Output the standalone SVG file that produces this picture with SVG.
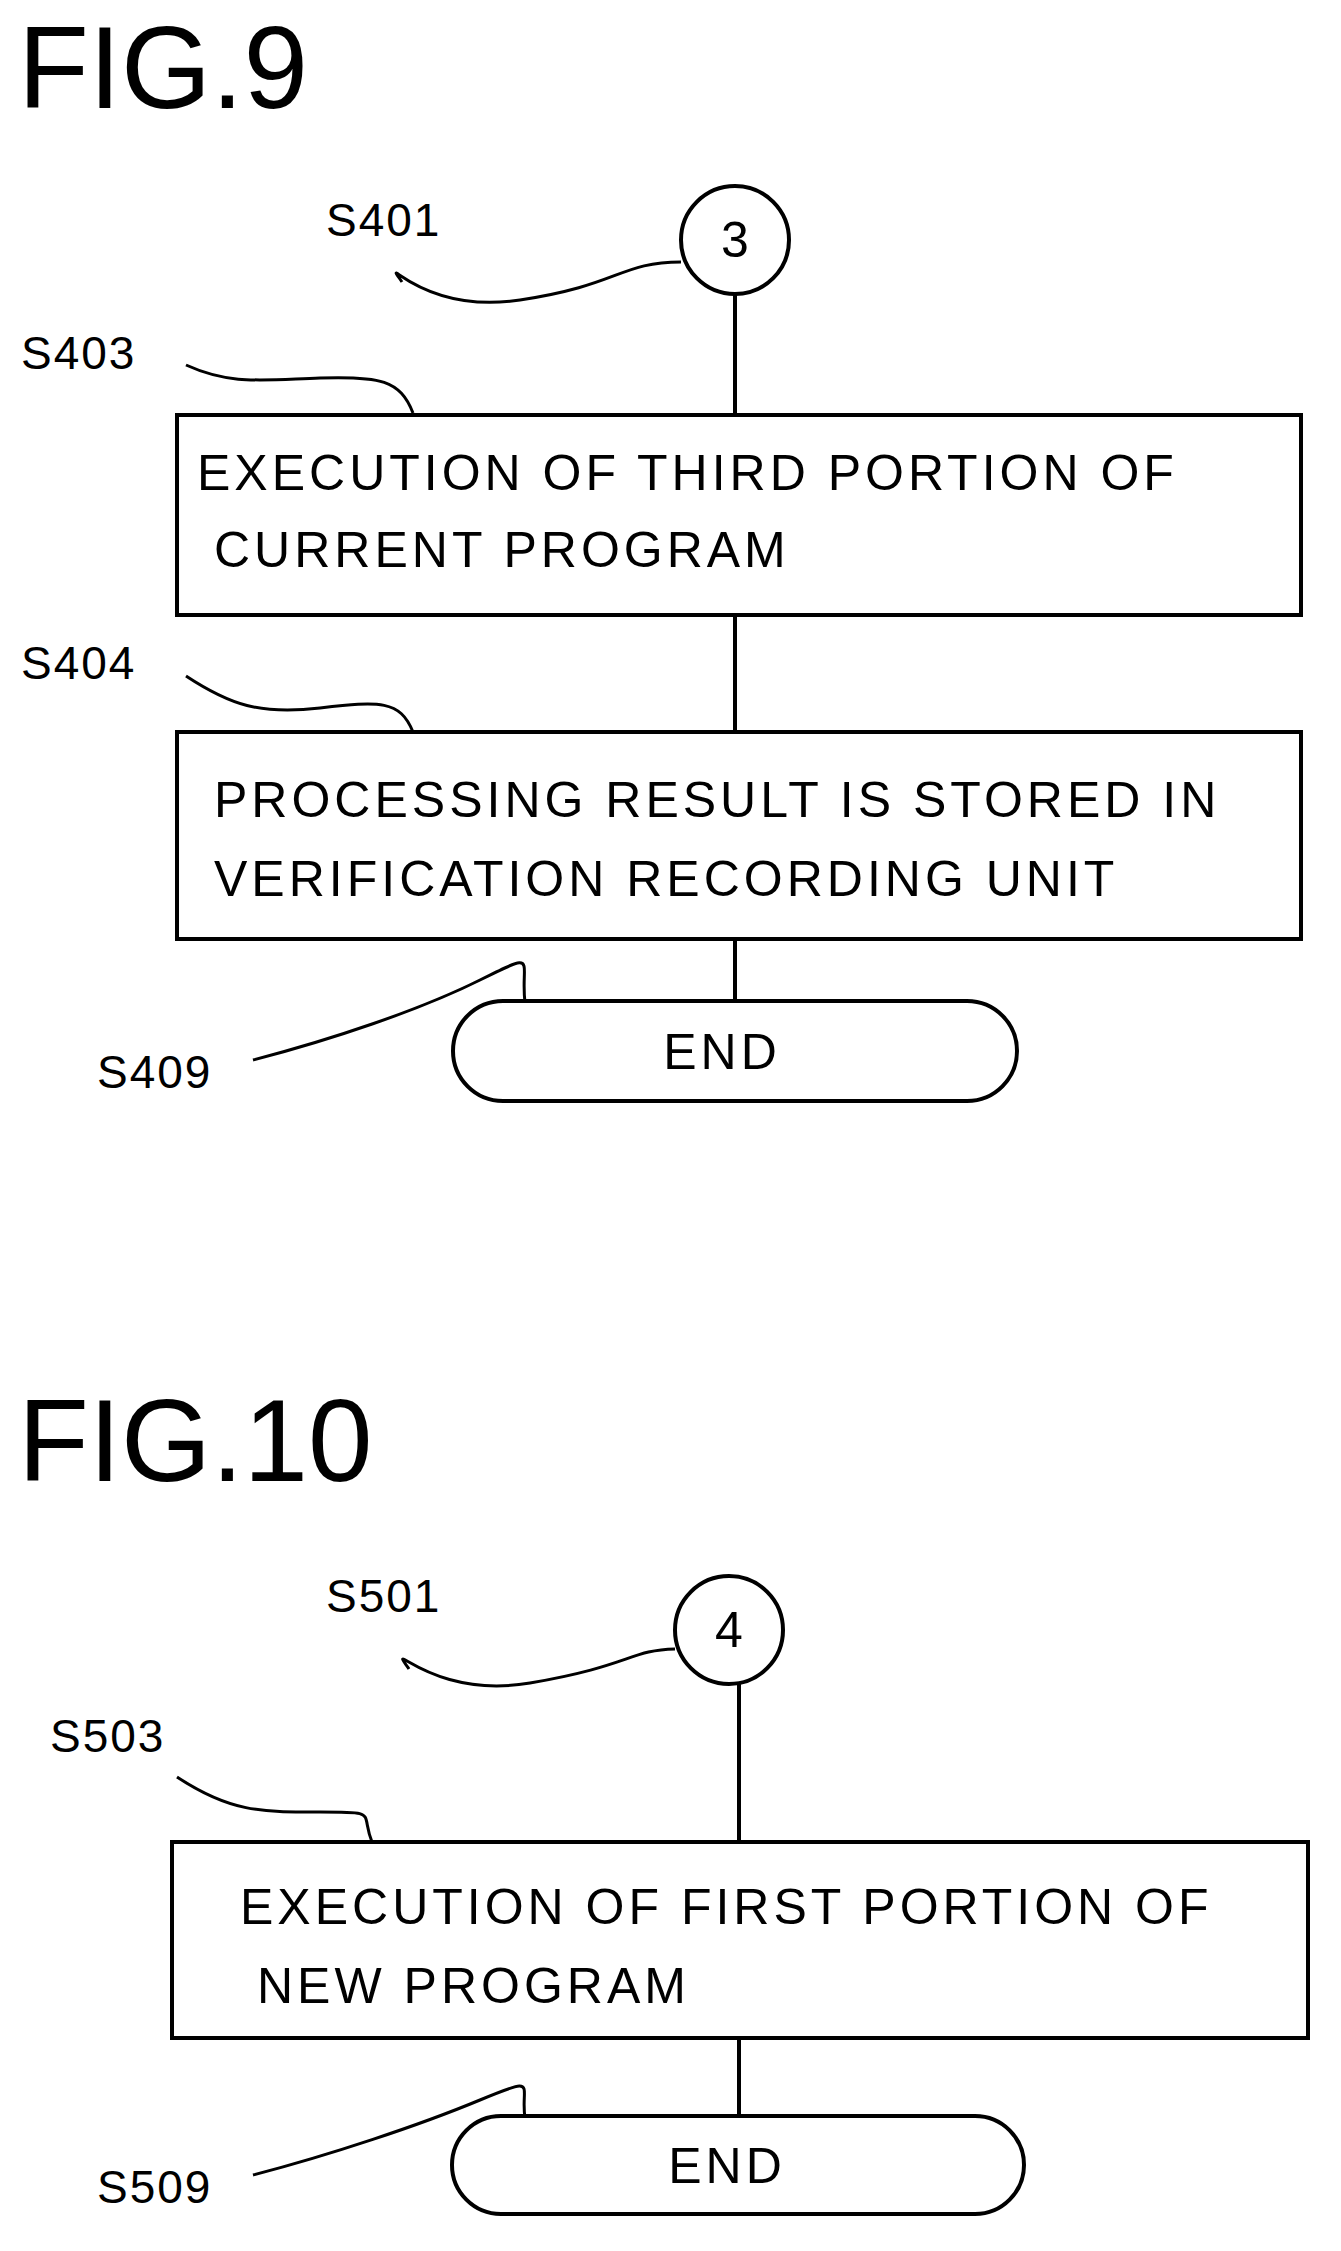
<svg xmlns="http://www.w3.org/2000/svg" width="1341" height="2251" viewBox="0 0 1341 2251">
<style>
.t{font-family:"Liberation Sans",Arial,sans-serif;fill:#000}
.b{font-size:50px;letter-spacing:4px}
.l{font-size:46px;letter-spacing:2px}
.f{font-size:116px}
.s{fill:#fff;stroke:#000;stroke-width:4}
.c{fill:none;stroke:#000;stroke-width:3}
</style>
<rect width="1341" height="2251" fill="#fff"/>
<text class="t f" x="18" y="108">FIG.9</text>
<text class="t f" x="18" y="1481">FIG.10</text>
<g id="connectors">
<line class="c" x1="735" y1="294" x2="735" y2="1001" style="stroke-width:4"/>
<line class="c" x1="739" y1="1684" x2="739" y2="2116" style="stroke-width:4"/>
<path class="c" d="M402 282 C380 250,420 315,520 300 S620 262,681 262"/>
<path class="c" d="M186 365 C230 385,260 380,320 378 S400 380,413 413"/>
<path class="c" d="M186 676 C230 705,260 715,320 708 S400 700,413 732"/>
<path class="c" d="M253 1060 C330 1040,420 1010,480 980 S520 960,525 1003"/>
<path class="c" d="M409 1669 C385 1635,430 1700,530 1683 S630 1650,675 1649"/>
<path class="c" d="M177 1777 C230 1812,260 1812,320 1812 S360 1812,372 1842"/>
<path class="c" d="M253 2175 C330 2155,420 2125,480 2100 S520 2085,525 2118"/>
</g>
<g id="S401"><circle class="s" cx="735" cy="240" r="54"/><text class="t b" x="737" y="257" text-anchor="middle">3</text><text class="t l" x="326" y="236">S401</text></g>
<g id="S403"><rect class="s" x="177" y="415" width="1124" height="200"/><text class="t b" x="197" y="490">EXECUTION OF THIRD PORTION OF</text><text class="t b" x="214" y="567">CURRENT PROGRAM</text><text class="t l" x="21" y="369">S403</text></g>
<g id="S404"><rect class="s" x="177" y="732" width="1124" height="207"/><text class="t b" x="214" y="817">PROCESSING RESULT IS STORED IN</text><text class="t b" x="214" y="896">VERIFICATION RECORDING UNIT</text><text class="t l" x="21" y="679">S404</text></g>
<g id="S409"><rect class="s" x="453" y="1001" width="564" height="100" rx="50"/><text class="t b" x="722" y="1069" text-anchor="middle">END</text><text class="t l" x="97" y="1088">S409</text></g>
<g id="S501"><circle class="s" cx="729" cy="1630" r="54"/><text class="t b" x="731" y="1647" text-anchor="middle">4</text><text class="t l" x="326" y="1612">S501</text></g>
<g id="S503"><rect class="s" x="172" y="1842" width="1136" height="196"/><text class="t b" x="240" y="1924">EXECUTION OF FIRST PORTION OF</text><text class="t b" x="257" y="2003">NEW PROGRAM</text><text class="t l" x="50" y="1752">S503</text></g>
<g id="S509"><rect class="s" x="452" y="2116" width="572" height="98" rx="49"/><text class="t b" x="727" y="2183" text-anchor="middle">END</text><text class="t l" x="97" y="2203">S509</text></g>
</svg>
